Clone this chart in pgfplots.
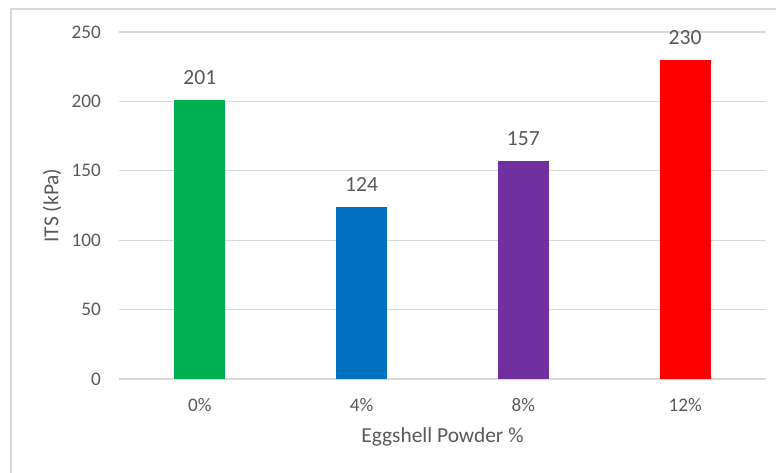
\documentclass[border=0pt]{standalone}
\usepackage{fontspec}
\setmainfont{Carlito}
\usepackage{pgfplots}
\pgfplotsset{compat=1.18}
\definecolor{txt}{HTML}{595959}
\definecolor{gridc}{HTML}{D9D9D9}
\definecolor{cg}{HTML}{00B050}
\definecolor{cb}{HTML}{0070C0}
\definecolor{cp}{HTML}{7030A0}
\definecolor{cr}{HTML}{FF0000}
\begin{document}
\begin{tikzpicture}
\path[use as bounding box] (0,0) rectangle (388pt,236pt);
\draw[gridc, line width=0.8pt] (5.5pt,-1pt) -- (5.5pt,231.5pt) -- (389pt,231.5pt);
\begin{axis}[
  at={(59.5pt,46.5pt)}, anchor=south west,
  scale only axis, width=323.5pt, height=173.5pt,
  xmin=-0.5, xmax=3.5, ymin=0, ymax=250,
  xtick={0,1,2,3}, xticklabels={0\%,4\%,8\%,12\%},
  ytick={0,50,100,150,200,250},
  xmajorgrids=false, ymajorgrids=true,
  major grid style={draw=gridc, line width=0.6pt},
  axis line style={draw=none},
  major tick length=0pt,
  tick label style={font=\fontsize{9.6}{11}\selectfont, text=txt},
  /pgf/number format/assume math mode=true,
  yticklabel style={xshift=-5.5pt},
  xticklabel style={anchor=center, yshift=-13pt},
  xlabel={Eggshell Powder \%}, ylabel={ITS (kPa)},
  label style={font=\fontsize{10.7}{12}\selectfont, text=txt},
  xlabel style={at={(axis description cs:0.5,-0.167)}, anchor=center},
  ylabel style={at={(axis description cs:-0.1036,0.5)}, anchor=center},
  ybar, bar width=25.5pt, bar shift=0pt,
  nodes near coords,
  nodes near coords style={font=\fontsize{10.8}{12}\selectfont, text=txt, anchor=center, yshift=11pt},
  clip=false,
]
\draw[gridc, line width=0.8pt] (axis cs:-0.5,0) -- (axis cs:3.5,0);
\addplot[fill=cg, draw=none] coordinates {(0,201)};
\addplot[fill=cb, draw=none] coordinates {(1,124)};
\addplot[fill=cp, draw=none] coordinates {(2,157)};
\addplot[fill=cr, draw=none] coordinates {(3,230)};
\end{axis}
\end{tikzpicture}
\end{document}
